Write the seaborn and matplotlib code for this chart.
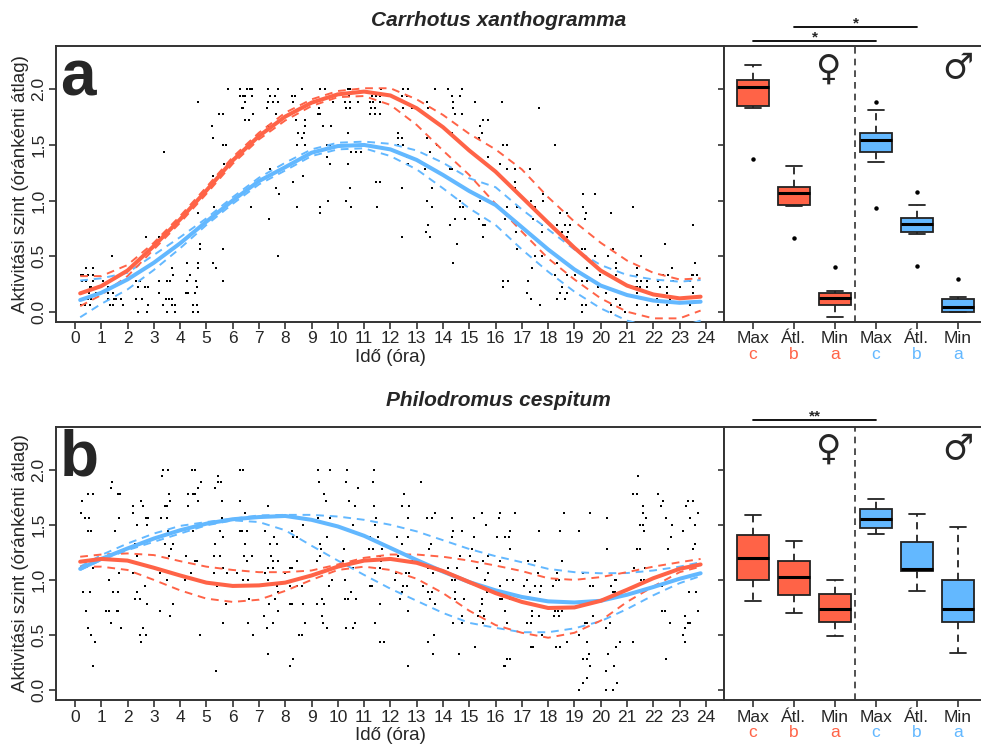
import matplotlib
matplotlib.use("Agg")
import matplotlib.pyplot as plt
import pandas as pd
import seaborn as sns

sns.set_style("ticks")
plt.rcParams["font.family"] = ["Liberation Sans", "DejaVu Sans"]

RED = "#FF6347"
BLUE = "#63B8FF"
INK = "#333333"

# mintavételi pontok a görbékhez (óra)
hours = [0.2, 1, 2, 3, 4, 5, 6, 7, 8, 9, 10, 11, 12, 13, 14, 15, 16, 17, 18, 19, 20, 21, 22, 23, 23.8]

# --- a panel: Carrhotus xanthogramma, illesztett görbék és konfidencia sávok ---
a_red = [0.165, 0.23, 0.37, 0.59, 0.83, 1.09, 1.36, 1.58, 1.755, 1.88, 1.955, 1.98, 1.945, 1.83, 1.66, 1.45, 1.26, 1.03, 0.80, 0.575, 0.37, 0.235, 0.155, 0.12, 0.135]
a_red_hi = [0.32, 0.32, 0.42, 0.62, 0.86, 1.12, 1.39, 1.61, 1.79, 1.91, 1.985, 2.01, 2.01, 1.91, 1.77, 1.60, 1.46, 1.28, 1.03, 0.81, 0.62, 0.46, 0.35, 0.29, 0.30]
a_red_lo = [0.05, 0.15, 0.32, 0.56, 0.80, 1.06, 1.33, 1.55, 1.72, 1.85, 1.93, 1.94, 1.86, 1.68, 1.45, 1.23, 0.97, 0.72, 0.48, 0.29, 0.12, 0.00, -0.06, -0.06, 0.01]
a_blue = [0.105, 0.17, 0.29, 0.44, 0.615, 0.81, 1.0, 1.175, 1.30, 1.43, 1.49, 1.50, 1.46, 1.365, 1.23, 1.085, 0.96, 0.76, 0.56, 0.38, 0.235, 0.15, 0.10, 0.08, 0.09]
a_blue_hi = [0.28, 0.30, 0.35, 0.51, 0.67, 0.84, 1.03, 1.205, 1.34, 1.46, 1.52, 1.53, 1.51, 1.45, 1.34, 1.20, 1.12, 0.92, 0.74, 0.56, 0.42, 0.33, 0.29, 0.27, 0.285]
a_blue_lo = [-0.05, 0.07, 0.20, 0.375, 0.57, 0.78, 0.97, 1.145, 1.27, 1.40, 1.46, 1.47, 1.40, 1.28, 1.11, 0.93, 0.78, 0.56, 0.36, 0.18, 0.03, -0.08, -0.14, -0.14, -0.08]

# --- b panel: Philodromus cespitum ---
b_red = [1.165, 1.19, 1.175, 1.11, 1.04, 0.975, 0.945, 0.95, 0.975, 1.04, 1.12, 1.175, 1.19, 1.155, 1.08, 0.98, 0.88, 0.80, 0.745, 0.75, 0.81, 0.91, 1.015, 1.10, 1.14]
b_red_hi = [1.21, 1.23, 1.24, 1.225, 1.17, 1.12, 1.09, 1.07, 1.07, 1.085, 1.14, 1.20, 1.23, 1.23, 1.21, 1.175, 1.13, 1.08, 1.015, 1.0, 1.025, 1.07, 1.12, 1.16, 1.19]
b_red_lo = [1.12, 1.12, 1.09, 1.0, 0.905, 0.83, 0.80, 0.82, 0.90, 1.0, 1.09, 1.12, 1.09, 1.01, 0.88, 0.72, 0.59, 0.52, 0.475, 0.52, 0.63, 0.80, 0.94, 1.07, 1.12]
b_blue = [1.10, 1.19, 1.285, 1.375, 1.45, 1.51, 1.55, 1.57, 1.58, 1.545, 1.485, 1.40, 1.29, 1.18, 1.075, 0.98, 0.905, 0.845, 0.805, 0.795, 0.81, 0.865, 0.935, 1.01, 1.06]
b_blue_hi = [1.12, 1.225, 1.33, 1.42, 1.49, 1.525, 1.555, 1.585, 1.59, 1.59, 1.575, 1.545, 1.50, 1.44, 1.36, 1.28, 1.215, 1.16, 1.10, 1.07, 1.06, 1.062, 1.085, 1.12, 1.16]
b_blue_lo = [1.09, 1.18, 1.27, 1.345, 1.42, 1.495, 1.54, 1.525, 1.45, 1.31, 1.175, 1.045, 0.92, 0.81, 0.70, 0.61, 0.565, 0.525, 0.525, 0.56, 0.625, 0.735, 0.86, 0.97, 1.035]

# óránkénti átlagok: (szint, [órák])
a_obs = [
    (2.00, [5.81, 6.28, 6.53, 6.66, 6.72, 7.35, 7.73, 8.62, 9.32, 9.53, 10.40, 10.46, 11.66, 12.49, 12.68, 13.69, 14.20, 14.71]),
    (1.94, [6.28, 6.40, 6.47, 6.72, 7.42, 7.61, 8.24, 8.37, 10.43, 11.29, 11.47, 11.60, 12.43, 12.62, 14.33, 14.64]),
    (1.89, [4.67, 6.47, 7.35, 7.54, 7.73, 8.30, 9.83, 10.27, 10.46, 10.78, 11.22, 11.35, 11.60, 12.55, 13.38, 14.39, 15.22, 16.23]),
    (1.83, [6.34, 6.40, 7.29, 8.56, 9.29, 10.33, 10.46, 11.25, 11.41, 12.49, 12.81, 13.44, 14.39, 17.66]),
    (1.78, [5.49, 5.62, 6.78, 7.65, 9.26, 9.32, 11.22, 11.41, 11.60, 14.45, 14.71]),
    (1.72, [6.47, 6.63, 8.41, 8.75, 15.53, 15.72]),
    (1.67, [5.21, 7.35, 8.75, 9.45, 9.73, 15.41]),
    (1.61, [8.50, 8.71, 10.40, 12.30, 14.33, 15.47]),
    (1.56, [5.26, 8.62, 12.30, 12.43, 13.38, 15.38]),
    (1.50, [5.62, 5.74, 8.43, 8.75, 9.57, 9.70, 12.30, 12.49, 13.76, 16.27, 16.29, 16.42, 18.26]),
    (1.44, [3.38, 10.52, 10.71, 10.90, 13.50]),
    (1.39, [9.57, 12.62, 15.72]),
    (1.33, [5.68, 9.70, 10.40, 12.68, 16.17]),
    (1.28, [7.42, 13.31, 13.57, 14.26, 14.33, 16.42, 16.74, 17.31]),
    (1.22, [5.24, 8.66]),
    (1.17, [8.30, 11.47, 11.60, 16.74]),
    (1.11, [7.65, 10.46, 12.43, 13.57, 16.74]),
    (1.06, [7.76, 17.82, 19.31, 19.78]),
    (1.00, [9.61, 10.33, 13.38, 14.64, 15.41, 17.33, 17.79]),
    (0.94, [5.29, 6.68, 8.46, 9.32, 10.50, 11.50, 13.57, 14.64, 14.75, 16.42, 16.80, 17.50, 19.34, 21.24]),
    (0.89, [4.67, 9.32, 18.45, 18.70, 19.44, 20.41]),
    (0.83, [7.38, 14.45, 14.83, 15.38, 16.36, 17.43, 19.40]),
    (0.78, [13.44, 14.26, 15.53, 15.59, 17.75, 18.32, 18.64, 18.83, 23.52]),
    (0.72, [13.35, 16.77, 17.75, 18.51, 18.77]),
    (0.67, [2.69, 3.21, 12.46, 13.50, 15.53, 18.51, 18.70]),
    (0.61, [4.75, 14.52, 22.44]),
    (0.56, [4.75, 5.62, 16.80, 19.27, 19.40, 20.48]),
    (0.50, [1.42, 7.73, 17.50, 17.75, 19.78, 20.29, 21.55]),
    (0.44, [4.25, 4.67, 5.24, 14.39, 18.32, 20.60, 23.58]),
    (0.39, [0.44, 0.70, 3.68, 4.69, 5.36, 17.37, 19.46, 20.60, 21.37, 22.70]),
    (0.33, [0.22, 0.32, 0.51, 0.70, 3.74, 4.37, 18.26, 18.70, 19.02, 19.97, 20.60, 21.37, 22.38, 22.57, 23.46, 23.52, 23.65]),
    (0.28, [0.25, 0.44, 0.70, 1.08, 1.33, 2.32, 2.47, 3.21, 3.49, 3.61, 4.25, 4.60, 5.62, 16.27, 16.29, 16.48, 17.24,
            19.27, 19.46, 19.65, 21.37, 21.55, 21.75, 22.19, 22.76, 23.39]),
    (0.22, [0.57, 0.63, 1.24, 1.43, 2.41, 2.66, 2.79, 4.63, 16.27, 18.51, 19.91, 20.20, 21.30, 21.37, 21.49, 21.75,
            22.25, 22.51, 23.01, 23.52]),
    (0.17, [0.54, 0.82, 1.27, 1.46, 3.21, 4.22, 4.31, 4.56, 17.21, 18.45, 18.70, 20.22, 21.37, 22.51, 23.52]),
    (0.11, [0.51, 0.63, 1.24, 1.50, 1.56, 1.77, 2.32, 2.57, 3.46, 3.59, 3.68, 17.33, 18.32, 18.64, 20.60, 22.13, 22.63]),
    (0.06, [0.22, 0.38, 0.57, 1.33, 1.46, 1.84, 2.79, 3.36, 3.68, 3.80, 4.48, 4.63, 17.69, 19.27, 19.44, 20.38, 20.73,
            21.37, 21.75, 22.19, 22.51, 23.39]),
    (0.00, [2.41, 2.75, 3.51, 3.80, 4.48, 4.69, 19.27, 20.41, 20.92]),
]

b_obs = [
    (2.00, [3.36, 3.55, 4.44, 4.56, 6.28, 6.40, 9.23, 9.70, 10.36, 11.39]),
    (1.94, [3.33, 5.45, 21.43]),
    (1.89, [1.40, 4.79, 5.45, 5.55, 9.29, 10.31, 11.32, 13.16]),
    (1.83, [1.36, 4.67, 5.33, 10.75]),
    (1.78, [0.51, 0.67, 1.65, 1.71, 3.59, 4.31, 4.50, 4.56, 9.48, 12.53, 21.24, 21.39, 22.19]),
    (1.72, [0.25, 2.51, 3.61, 4.67, 5.58, 6.28, 9.55, 10.43, 22.38, 23.33, 23.50]),
    (1.67, [2.19, 2.60, 3.42, 3.51, 4.31, 7.35, 10.65, 11.39, 12.46, 12.72, 21.62, 22.29, 23.24]),
    (1.61, [0.22, 2.22, 6.47, 13.69, 15.47, 16.17, 16.74, 18.60, 19.61, 21.59, 23.71]),
    (1.56, [0.38, 0.54, 1.69, 2.70, 2.79, 3.27, 3.51, 5.58, 6.66, 9.23, 9.70, 11.47, 12.68, 13.38, 13.57, 14.33,
            15.18, 16.14, 20.25, 21.71, 22.48, 23.39]),
    (1.50, [2.35, 2.73, 8.69, 10.59, 11.41, 15.62, 21.49, 21.59, 22.70, 23.58]),
    (1.44, [0.51, 0.63, 1.52, 3.55, 4.48, 5.52, 6.28, 6.34, 6.53, 7.23, 8.24, 14.37, 14.71, 16.55, 17.66, 18.47,
            19.18, 21.64, 23.14]),
    (1.39, [5.62, 7.58, 8.30, 8.43, 9.57, 11.22, 11.54, 12.24, 12.68, 14.35, 15.18, 16.04, 16.36, 16.52, 22.66]),
    (1.33, [2.28, 3.42, 3.74, 5.33, 6.47, 7.42, 7.67, 9.32, 12.43, 13.54, 23.58]),
    (1.28, [3.65, 9.36, 10.25, 11.20, 11.32, 11.69, 13.48, 15.09, 16.55, 20.25, 21.39, 21.49, 22.57, 23.52]),
    (1.22, [2.35, 3.59, 4.22, 5.29, 5.52, 6.43, 6.72, 7.44, 9.32, 11.60, 12.30, 14.64, 15.03, 15.72]),
    (1.17, [4.56, 4.65, 6.53, 7.52, 7.73, 8.46, 9.19, 10.18, 10.56, 11.66, 12.81, 15.53, 16.17, 17.24, 17.50, 18.51]),
    (1.11, [0.70, 5.64, 7.35, 7.52, 8.18, 8.24, 10.59, 11.60, 13.44, 14.20, 14.52, 15.28, 21.26, 21.68]),
    (1.06, [1.69, 2.22, 3.23, 4.41, 5.30, 5.77, 6.15, 7.23, 7.99, 11.41, 12.21, 12.59, 12.72, 13.63, 15.72, 17.62,
            18.35, 19.31, 22.51]),
    (1.00, [1.31, 3.49, 4.18, 6.40, 6.57, 7.35, 9.76, 10.27, 12.17, 14.33, 14.45, 15.59, 16.42, 16.67, 17.18, 18.30,
            18.42, 20.54, 20.58, 21.55, 21.64]),
    (0.94, [2.66, 5.39, 5.77, 7.67, 8.18, 8.43, 8.62, 9.67, 11.22, 11.29, 12.49, 12.62, 13.25, 15.28, 16.17, 17.08,
            17.50, 17.71, 18.17, 19.61, 19.72, 20.41, 22.13, 22.32]),
    (0.89, [0.32, 0.57, 1.46, 1.65, 2.38, 7.73, 10.49, 12.43, 13.44, 13.57, 14.45, 15.66, 17.31, 17.69, 20.48, 20.54,
            23.37, 23.62]),
    (0.83, [2.28, 2.47, 6.63, 7.61, 9.38, 10.27, 10.40, 10.71, 12.36, 13.50, 14.45, 14.81, 15.47, 16.17, 16.23, 16.55]),
    (0.78, [2.73, 3.74, 5.74, 7.39, 8.20, 8.24, 8.69, 9.22, 9.48, 11.60, 13.69, 15.47]),
    (0.72, [0.44, 1.20, 1.29, 1.59, 1.65, 3.23, 7.73, 12.68, 15.41, 16.36, 17.37, 18.26, 18.39, 18.51, 22.32, 22.44, 23.71]),
    (0.67, [3.61, 7.20, 9.38, 14.71, 15.34, 15.56, 17.37, 17.66, 18.22, 18.42, 19.72, 23.20]),
    (0.61, [1.36, 5.62, 6.59, 7.54, 8.75, 9.45, 10.65, 11.41, 14.39, 14.71, 15.51, 16.42, 17.18, 17.33, 19.40, 19.49,
            20.35, 22.63, 23.33, 23.39]),
    (0.56, [0.51, 1.77, 2.60, 7.29, 9.60, 10.33, 10.59, 20.20, 23.20]),
    (0.50, [0.61, 2.47, 2.70, 4.75, 6.76, 8.53, 8.62, 13.66, 17.75, 19.18, 23.14]),
    (0.44, [0.76, 2.50, 11.60, 11.75, 13.44, 18.73, 19.46, 20.73, 21.21, 23.20]),
    (0.39, [15.22, 17.33, 17.43, 18.30, 18.45, 20.58]),
    (0.33, [7.35, 13.63, 14.61, 19.56, 20.29]),
    (0.28, [8.28, 16.45, 16.55, 19.31, 19.49, 22.48]),
    (0.22, [0.67, 8.20, 12.68, 16.32, 16.36, 19.61, 20.50]),
    (0.17, [5.36, 20.19]),
    (0.11, [19.49]),
    (0.06, [19.31, 20.63]),
    (0.00, [19.18, 20.20, 20.45]),
]

# boxplotok: nőstény (Max, Átl., Min), hím (Max, Átl., Min)
box_keys = ["F_Max", "F_Atl", "F_Min", "M_Max", "M_Atl", "M_Min"]
box_labels = ["Max", "Átl.", "Min", "Max", "Átl.", "Min"]
box_letters = ["c", "b", "a", "c", "b", "a"]
box_colors = [RED, RED, RED, BLUE, BLUE, BLUE]

# (alsó bajusz, Q1, medián, Q3, felső bajusz)
a_box = [(1.83, 1.85, 2.02, 2.08, 2.22), (0.95, 0.96, 1.065, 1.125, 1.31), (-0.045, 0.06, 0.12, 0.17, 0.19),
         (1.35, 1.44, 1.545, 1.61, 1.815), (0.70, 0.72, 0.79, 0.845, 0.96), (0.0, 0.0, 0.045, 0.11, 0.135)]
a_out_lo = [1.37, 0.66, None, 0.93, 0.414, None]
a_out_hi = [None, None, 0.40, 1.885, 1.08, 0.29]

b_box = [(0.81, 1.00, 1.195, 1.41, 1.59), (0.70, 0.86, 1.03, 1.17, 1.355), (0.49, 0.615, 0.74, 0.875, 1.0),
         (1.42, 1.47, 1.55, 1.645, 1.73), (0.90, 1.08, 1.095, 1.345, 1.595), (0.335, 0.615, 0.74, 1.0, 1.48)]
b_out_lo = [None] * 6
b_out_hi = [None] * 6

W, H = 981, 747
DASH = (0, (4, 3))


def px_box(x0, y0, x1, y1):
    # pixel keret -> ábra koordináták
    return [x0 / W, 1 - y1 / H, (x1 - x0) / W, (y1 - y0) / H]


def box_sample(stats, lo, hi):
    # 11 elemű minta, amelynek kvartilisei és bajuszai a leolvasott értékek
    wlo, q1, med, q3, whi = stats
    low = [lo, wlo] if lo is not None else [wlo, wlo]
    high = [whi, hi] if hi is not None else [whi, whi]
    return low + [q1] * 3 + [med] + [q3] * 3 + high


def style_spines(ax, right=True):
    for name, sp in ax.spines.items():
        sp.set_color(INK)
        sp.set_linewidth(1.4)
        sp.set_visible(right or name != "right")


def draw_time_panel(ax, obs_rows, curves, letter):
    obs = pd.DataFrame([(h, v) for v, hs in obs_rows for h in hs], columns=["ora", "szint"])
    sns.scatterplot(data=obs, x="ora", y="szint", ax=ax, color="black", marker="s", s=4.3,
                    linewidth=0, zorder=2)
    for fit, lo, hi, col in curves:
        sns.lineplot(x=hours, y=lo, ax=ax, color=col, lw=1.4, linestyle=DASH, zorder=3)
        sns.lineplot(x=hours, y=hi, ax=ax, color=col, lw=1.4, linestyle=DASH, zorder=3)
    for fit, lo, hi, col in curves:
        sns.lineplot(x=hours, y=fit, ax=ax, color=col, lw=2.9, zorder=4)

    ax.set_xlim(-0.72, 24.69)
    ax.set_ylim(-0.09, 2.39)
    ax.set_xticks(range(25))
    ax.set_xticklabels([str(i) for i in range(25)])
    ax.set_yticks([0, 0.5, 1.0, 1.5, 2.0])
    ax.set_yticklabels(["0.0", "0.5", "1.0", "1.5", "2.0"], rotation=90, va="center")
    ax.tick_params(axis="both", labelsize=12.5, length=5, width=1.2, color=INK, pad=2)
    ax.set_xlabel("Idő (óra)", fontsize=13.5)
    ax.set_ylabel("Aktivitási szint (óránkénti átlag)", fontsize=13.5)
    ax.xaxis.set_label_coords(0.5, -0.1)
    ax.yaxis.set_label_coords(-0.041, 0.5)
    style_spines(ax)
    ax.text(0.006, 0.82, letter, transform=ax.transAxes, fontsize=46, fontweight="bold",
            ha="left", va="baseline")


def draw_box_panel(bx, boxes, outs_lo, outs_hi, bars):
    rows = []
    for key, st, lo, hi in zip(box_keys, boxes, outs_lo, outs_hi):
        rows += [(key, v) for v in box_sample(st, lo, hi)]
    df = pd.DataFrame(rows, columns=["csoport", "szint"])
    sns.boxplot(data=df, x="csoport", y="szint", hue="csoport", order=box_keys, hue_order=box_keys,
                palette=box_colors, saturation=1, width=0.8, linecolor="#222222", linewidth=1.3,
                whiskerprops=dict(linestyle=DASH), medianprops=dict(color="black", linewidth=2.2),
                flierprops=dict(marker="o", markersize=2.2, markerfacecolor="black",
                                markeredgecolor="black"),
                legend=False, ax=bx)
    bx.axvline(2.5, color=INK, lw=1.2, linestyle=DASH)
    bx.set_xlim(-0.707, 5.756)
    bx.set_ylim(-0.09, 2.39)
    bx.set_yticks([0, 0.5, 1.0, 1.5, 2.0])
    bx.set_xticks(range(6))
    bx.set_xticklabels(box_labels)
    bx.tick_params(axis="x", labelsize=12.5, length=5, width=1.2, color=INK, pad=2)
    bx.tick_params(axis="y", labelleft=False, length=4, width=1.2, color=INK)
    bx.set_xlabel("")
    bx.set_ylabel("")
    style_spines(bx, right=False)

    tr = bx.get_xaxis_transform()
    for i, (let, col) in enumerate(zip(box_letters, box_colors)):
        bx.text(i, -0.12, let, color=col, transform=tr, ha="center", va="center", fontsize=12.5)
    bx.text(1.83, 0.915, "♀", transform=tr, ha="center", va="center", fontsize=25,
            fontweight="bold", family="DejaVu Sans")
    bx.text(5.0, 0.92, "♂", transform=tr, ha="center", va="center", fontsize=25,
            fontweight="bold", family="DejaVu Sans")
    for x0, x1, y_line, star in bars:
        bx.plot([x0, x1], [y_line, y_line], transform=tr, color="black", lw=1.3, clip_on=False)
        bx.text((x0 + x1) / 2, y_line - 0.002, star, transform=tr, ha="center", va="baseline",
                fontsize=11, fontweight="bold", clip_on=False)


fig = plt.figure(figsize=(9.81, 7.47), dpi=100)
ax_a = fig.add_axes(px_box(56, 46, 724, 321.7))
bx_a = fig.add_axes(px_box(724, 46, 989, 321.7))
ax_b = fig.add_axes(px_box(56, 426.7, 724, 700))
bx_b = fig.add_axes(px_box(724, 426.7, 989, 700))

draw_time_panel(ax_a, a_obs, [(a_blue, a_blue_lo, a_blue_hi, BLUE), (a_red, a_red_lo, a_red_hi, RED)], "a")
draw_time_panel(ax_b, b_obs, [(b_blue, b_blue_lo, b_blue_hi, BLUE), (b_red, b_red_lo, b_red_hi, RED)], "b")
draw_box_panel(bx_a, a_box, a_out_lo, a_out_hi, [(0, 3, 1.019, "*"), (1, 4, 1.070, "*")])
draw_box_panel(bx_b, b_box, b_out_lo, b_out_hi, [(0, 3, 1.0245, "**")])

fig.text(0.5087, 0.973, "Carrhotus xanthogramma", ha="center", va="center", fontsize=15,
         fontweight="bold", fontstyle="italic")
fig.text(0.5077, 0.4645, "Philodromus cespitum", ha="center", va="center", fontsize=15,
         fontweight="bold", fontstyle="italic")

fig.savefig("out.png", dpi=100)
